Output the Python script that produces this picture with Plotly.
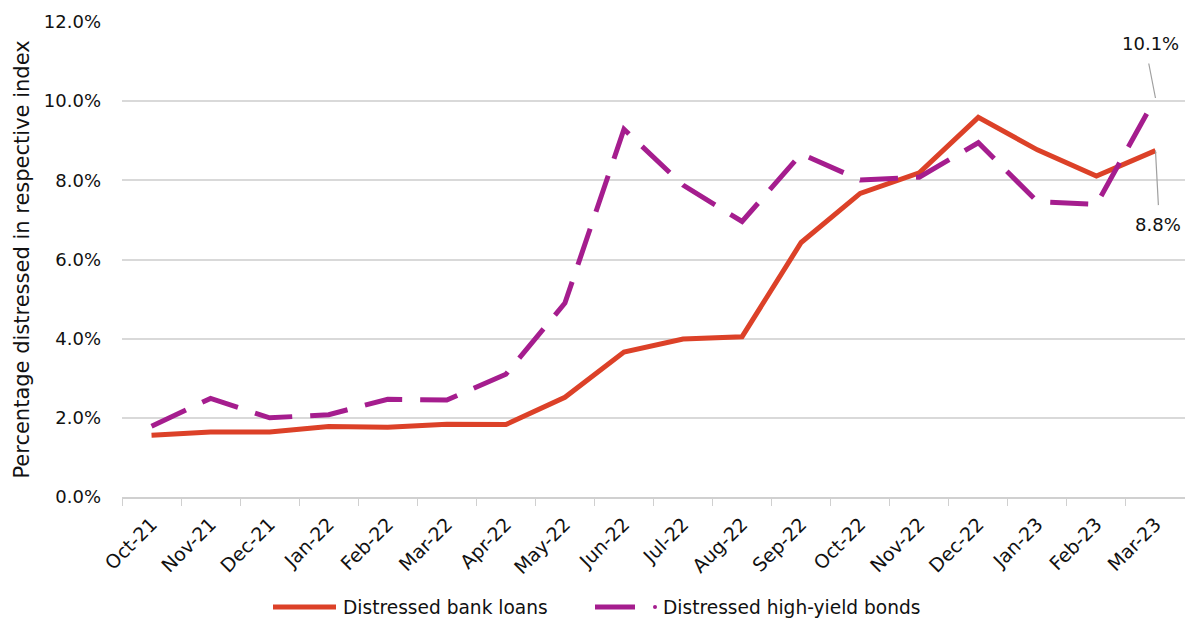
import plotly.graph_objects as go

months = ["Oct-21", "Nov-21", "Dec-21", "Jan-22", "Feb-22", "Mar-22", "Apr-22", "May-22",
          "Jun-22", "Jul-22", "Aug-22", "Sep-22", "Oct-22", "Nov-22", "Dec-22", "Jan-23",
          "Feb-23", "Mar-23"]
bank_loans = [1.56, 1.64, 1.64, 1.78, 1.76, 1.84, 1.83, 2.52,
              3.66, 3.99, 4.05, 6.43, 7.67, 8.19, 9.59, 8.77, 8.11, 8.75]
hy_bonds = [1.79, 2.49, 2.00, 2.08, 2.47, 2.45, 3.10, 4.90,
            9.29, 7.88, 6.96, 8.67, 8.01, 8.08, 8.95, 7.46, 7.39, 10.08]
y_ticks = [0, 2, 4, 6, 8, 10, 12]
series_names = ["Distressed bank loans", "Distressed high-yield bonds"]
label_hy = "10.1%"
label_bl = "8.8%"

RED = "#DC4128"
PURPLE = "#A51D8E"
FONT = "DejaVu Sans"
FS = 18
LFS = 18.6

# plot area geometry (pixels) used for the hand-drawn legend
L, R, T, B, W, H = 122, 0, 22, 121, 1185, 618
PW = W - L - R
PH = H - T - B


def px(x):
    return (x - L) / PW


def py(y):
    return (H - B - y) / PH


fig = go.Figure()
fig.add_trace(go.Scatter(x=months, y=bank_loans, mode="lines", name=series_names[0],
                         line=dict(color=RED, width=5), showlegend=False))
fig.add_trace(go.Scatter(x=months, y=hy_bonds, mode="lines", name=series_names[1],
                         line=dict(color=PURPLE, width=5, dash="38px,18px"), showlegend=False))

# leader lines + labels
fig.add_annotation(x=months[-1], y=hy_bonds[-1], ax=-7, ay=-36, text="", showarrow=True,
                   arrowhead=0, arrowcolor="#A0A0A0", arrowwidth=1.2, standoff=0)
fig.add_annotation(x=months[-1], y=hy_bonds[-1], xshift=-5, yshift=55, text=label_hy,
                   showarrow=False, font=dict(family=FONT, size=FS, color="#111"))
fig.add_annotation(x=months[-1], y=bank_loans[-1], ax=3, ay=56, text="", showarrow=True,
                   arrowhead=0, arrowcolor="#A0A0A0", arrowwidth=1.2, standoff=0)
fig.add_annotation(x=months[-1], y=bank_loans[-1], xshift=3, yshift=-74, text=label_bl,
                   showarrow=False, font=dict(family=FONT, size=FS, color="#111"))

# custom legend
ly = py(607)
fig.add_shape(type="line", xref="paper", yref="paper", x0=px(273), x1=px(336), y0=ly, y1=ly,
              line=dict(color=RED, width=5))
fig.add_annotation(xref="paper", yref="paper", x=px(341), y=ly, xanchor="left", yanchor="middle",
                   text=series_names[0], showarrow=False, font=dict(family=FONT, size=LFS, color="#111"))
fig.add_shape(type="line", xref="paper", yref="paper", x0=px(595), x1=px(635), y0=ly, y1=ly,
              line=dict(color=PURPLE, width=5))
fig.add_shape(type="circle", xref="paper", yref="paper", x0=px(653), x1=px(657),
              y0=py(609), y1=py(605), line=dict(width=0), fillcolor=PURPLE)
fig.add_annotation(xref="paper", yref="paper", x=px(661), y=ly, xanchor="left", yanchor="middle",
                   text=series_names[1], showarrow=False, font=dict(family=FONT, size=LFS, color="#111"))

fig.update_layout(
    width=W, height=H,
    margin=dict(l=L, r=R, t=T, b=B, autoexpand=False),
    paper_bgcolor="white", plot_bgcolor="white",
    font=dict(family=FONT, size=FS, color="#111"),
    showlegend=False,
    xaxis=dict(type="category", tickson="boundaries", ticks="outside", ticklen=7,
               tickcolor="#D0D0D0", showline=True, linecolor="#D0D0D0", linewidth=1.5,
               showgrid=False, tickangle=-45, tickfont=dict(family=FONT, size=19),
               ticklabelstandoff=7, range=[-0.5, 17.5], automargin=False),
    yaxis=dict(range=[0, 12], tickvals=y_ticks, ticktext=[f"{v:.1f}%" for v in y_ticks],
               showgrid=True, gridcolor="#D9D9D9", gridwidth=1.5, zeroline=False,
               showline=False, ticks="", ticklabelstandoff=20, automargin=False,
               tickfont=dict(family=FONT, size=FS),
               title=dict(text="Percentage distressed in respective index",
                          font=dict(family=FONT, size=21), standoff=8)),
)

fig.write_html("out.html")
